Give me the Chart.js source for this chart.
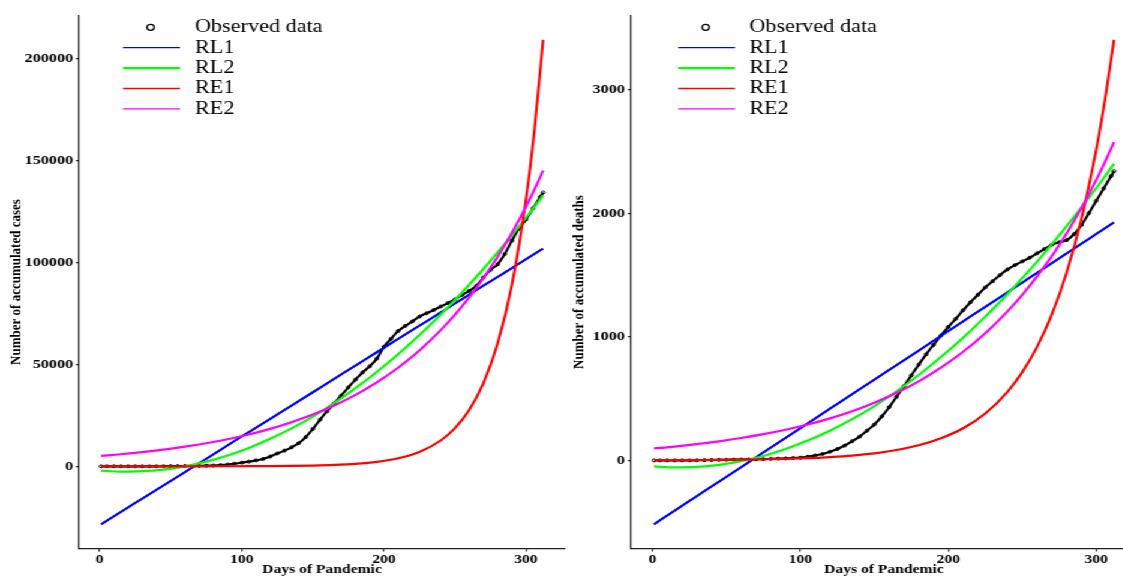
<!DOCTYPE html>
<html>
<head>
<meta charset="utf-8">
<title>Accumulated cases and deaths</title>
<script src="https://cdn.jsdelivr.net/npm/chart.js"></script>
<style>
  html, body { margin: 0; padding: 0; background: #fff; overflow: hidden; }
  /* the original figure is a little wider than tall text would suggest */
  #wrap { position: absolute; left: 0; top: 0; width: 936px; height: 578px; overflow: hidden; transform: scaleX(1.2); transform-origin: 0 0; }
  #cases { position: absolute; left: 0; top: 0; }
  #deaths { position: absolute; left: 474px; top: 0; }
</style>
</head>
<body>
<div id="wrap">
  <canvas id="cases" width="476" height="578"></canvas>
  <canvas id="deaths" width="480" height="578"></canvas>
</div>
<script>
const dayTicks = [0, 100, 200, 300];
const casesTicks = [0, 50000, 100000, 150000, 200000];
const deathsTicks = [0, 1000, 2000, 3000];

const modelLabels = ['RL1', 'RL2', 'RE1', 'RE2'];
const modelColors = ['#0000ff', '#00ff00', '#ff0000', '#ff00ff'];

// observed series (every 5 days)
const obsDays = [1, 5, 10, 15, 20, 25, 30, 35, 40, 45, 50, 55, 60, 65, 70, 75, 80, 85, 90, 95,
  100, 105, 110, 115, 120, 125, 130, 135, 140, 145, 150, 155, 160, 165, 170, 175, 180, 185, 190, 195,
  200, 205, 210, 215, 220, 225, 230, 235, 240, 245, 250, 255, 260, 265, 270, 275, 280, 285, 290, 295,
  300, 305, 310, 312];
const obsCases = [0, 0, 0, 0, 0, 0, 0, 0, 0, 50, 100, 100, 150, 200, 250, 300, 400, 600, 900, 1300,
  1800, 2300, 2900, 3600, 4800, 6300, 7700, 9300, 11300, 14300, 18300, 22800, 27000, 30800, 34700, 38700, 42500, 46000, 49000, 52800,
  58500, 62500, 66300, 68800, 71000, 73400, 75000, 76600, 78300, 80000, 81800, 84000, 86000, 88400, 92500, 96300, 99000, 104000, 110500, 116500,
  121000, 126500, 132000, 134200];
const obsDeaths = [0, 0, 0, 0, 0, 0, 1, 2, 3, 4, 5, 6, 7, 8, 9, 10, 12, 14, 16, 19,
  22, 30, 40, 52, 70, 92, 120, 155, 192, 240, 290, 355, 430, 515, 600, 688, 775, 858, 935, 1010,
  1080, 1145, 1215, 1280, 1340, 1400, 1450, 1500, 1545, 1580, 1610, 1640, 1675, 1710, 1745, 1765, 1782, 1830, 1905, 2000,
  2100, 2200, 2300, 2340];

// fitted curves, read at these days
const fitDays = [1, 15, 30, 45, 60, 75, 90, 105, 120, 135, 150, 165, 180, 195, 210, 225, 240, 250, 260, 270, 280, 290, 300, 306, 312];

const casesRL1 = [-28400, -22300, -15800, -9300, -2800, 3700, 10300, 16800, 23300, 29800, 36300, 42800, 49400, 55900, 62400, 68900, 75400, 79800, 84100, 88500, 92800, 97100, 101500, 104100, 106700];
const casesRL2 = [-2100, -2600, -2400, -1600, 0, 2300, 5300, 9000, 13500, 18600, 24400, 31000, 38300, 46200, 54900, 64300, 74400, 81500, 89000, 96700, 104800, 113200, 121900, 127300, 132800];
const casesRE1 = [1, 2, 4, 6, 11, 20, 37, 66, 118, 212, 381, 683, 1225, 2195, 3940, 7060, 12660, 18690, 27590, 40730, 60140, 88720, 131000, 165500, 209000];
const casesRE2 = [5100, 5930, 6970, 8190, 9620, 11310, 13290, 15620, 18350, 21560, 25340, 29780, 35000, 41130, 48330, 56800, 66740, 74330, 82770, 92180, 102650, 114310, 127300, 135790, 144860];

const deathsRL1 = [-517, -407, -289, -171, -54, 64, 182, 300, 418, 536, 653, 771, 889, 1007, 1125, 1243, 1360, 1439, 1517, 1596, 1675, 1753, 1832, 1879, 1926];
const deathsRL2 = [-49, -57, -53, -36, -6, 36, 92, 160, 240, 334, 440, 559, 691, 836, 993, 1163, 1346, 1475, 1609, 1749, 1895, 2047, 2204, 2301, 2400];
const deathsRE1 = [1, 2, 3, 4, 6, 9, 13, 18, 27, 39, 57, 84, 122, 179, 260, 380, 555, 714, 918, 1181, 1520, 1955, 2516, 2926, 3403];
const deathsRE2 = [97, 112, 132, 154, 181, 212, 248, 290, 340, 398, 467, 547, 640, 750, 879, 1029, 1206, 1340, 1489, 1654, 1838, 2043, 2270, 2417, 2576];

Chart.defaults.font.family = '"Liberation Serif", "Times New Roman", serif';

function points(xs, ys) {
  return xs.map((x, i) => ({ x, y: ys[i] }));
}

// legend drawn inside the plot, top left, like the ggplot one
const insideLegend = {
  id: 'insideLegend',
  afterDraw(chart, args, opts) {
    const { ctx, chartArea } = chart;
    const x0 = chartArea.left;
    ctx.save();
    ctx.font = '18.5px "Liberation Serif", serif';
    ctx.textBaseline = 'middle';
    ctx.textAlign = 'left';
    chart.data.datasets.forEach((ds, i) => {
      const y = opts.top + i * opts.step;
      if (ds.pointRadius > 0) {
        ctx.beginPath();
        ctx.strokeStyle = '#000';
        ctx.lineWidth = 1.3;
        ctx.arc(x0 + opts.dotX, y, 3, 0, Math.PI * 2);
        ctx.stroke();
      } else {
        ctx.beginPath();
        ctx.strokeStyle = ds.borderColor;
        ctx.lineWidth = ds.keyWidth;
        ctx.moveTo(x0 + opts.lineStart, y);
        ctx.lineTo(x0 + opts.lineEnd, y);
        ctx.stroke();
      }
      ctx.fillStyle = '#000';
      ctx.fillText(ds.label, x0 + opts.textX, y);
    });
    ctx.restore();
  }
};

function drawPanel(id, observed, fits, yTicks, yMin, yMax, yTitle, box) {
  const ctx = document.getElementById(id).getContext('2d');

  const datasets = [{
    label: 'Observed data',
    data: points(obsDays, observed),
    borderColor: '#000',
    borderWidth: 2.2,
    pointRadius: 1.5,
    pointBorderWidth: 1,
    pointBorderColor: '#000',
    pointBackgroundColor: 'rgba(0,0,0,0)',
    cubicInterpolationMode: 'monotone',
    order: 5,
  }].concat(fits.map((ys, i) => ({
    label: modelLabels[i],
    data: points(fitDays, ys),
    borderColor: modelColors[i],
    borderWidth: 2.2,
    pointRadius: 0,
    keyWidth: i === 1 ? 2.2 : 1.3,
    cubicInterpolationMode: 'monotone',
    order: 4 - i,
  })));

  return new Chart(ctx, {
    type: 'line',
    data: { datasets },
    options: {
      responsive: false,
      animation: false,
      devicePixelRatio: 1,
      layout: { padding: { top: 15.6, left: 0, right: box.padRight, bottom: 0 } },
      scales: {
        x: {
          type: 'linear',
          min: -14.55,
          max: 327.55,
          afterBuildTicks: s => { s.ticks = dayTicks.map(v => ({ value: v })); },
          afterFit: s => { s.height = 29.5; },
          grid: { drawOnChartArea: false, tickLength: 3, color: '#222', lineWidth: 1.2 },
          border: { color: '#222', width: 1.2 },
          ticks: {
            color: '#000',
            font: { size: 13, weight: 'bold' },
            padding: 0,
            maxRotation: 0,
            autoSkip: false,
            callback: v => String(v),
          },
          title: {
            display: true,
            text: 'Days of Pandemic',
            color: '#000',
            font: { size: 13, weight: 'bold', lineHeight: 1 },
            padding: { top: 0, bottom: 1.5 },
          },
        },
        y: {
          type: 'linear',
          min: yMin,
          max: yMax,
          afterBuildTicks: s => { s.ticks = yTicks.map(v => ({ value: v })); },
          afterFit: s => { s.width = box.yWidth; },
          grid: { drawOnChartArea: false, tickLength: 2.5, color: '#222', lineWidth: 1.2 },
          border: { color: '#222', width: 1.2 },
          ticks: {
            color: '#000',
            font: { size: 13.5, weight: 'bold' },
            padding: box.tickPad,
            autoSkip: false,
            callback: v => String(v),
          },
          title: {
            display: true,
            text: yTitle,
            color: '#000',
            font: { size: 13, weight: 'bold', lineHeight: 1 },
            padding: { top: box.titlePad, bottom: 0 },
          },
        },
      },
      plugins: {
        legend: { display: false },
        tooltip: { enabled: false },
        insideLegend: box.legend,
      },
    },
    plugins: [insideLegend],
  });
}

drawPanel('cases', obsCases, [casesRL1, casesRL2, casesRE1, casesRE2], casesTicks, -40270, 220870,
  'Number of accumulated cases',
  { yWidth: 65.8, padRight: 3.5, tickPad: 2.2, titlePad: 6.8,
    legend: { top: 27.3, step: 20.4, lineStart: 36.7, lineEnd: 84.2, dotX: 59.7, textX: 96.7 } });

drawPanel('deaths', obsDeaths, [deathsRL1, deathsRL2, deathsRE1, deathsRE2], deathsTicks, -713, 3599,
  'Number of accumulated deaths',
  { yWidth: 51.8, padRight: 6.5, tickPad: 2.5, titlePad: 2.2,
    legend: { top: 27.3, step: 20.4, lineStart: 39.4, lineEnd: 86.7, dotX: 62.3, textX: 98.6 } });
</script>
</body>
</html>
